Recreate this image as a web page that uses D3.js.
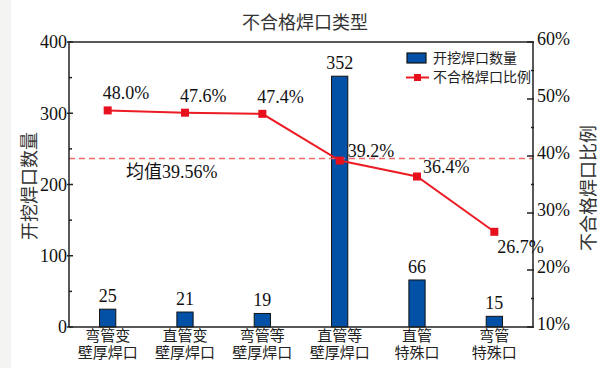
<!DOCTYPE html>
<html>
<head>
<meta charset="utf-8">
<script src="https://cdn.jsdelivr.net/npm/d3@7"></script>
<style>
  body { margin: 0; background: #fff; }
  svg text { fill: #111; }
</style>
</head>
<body>
<script>
// data
const categories = [["弯管变", "壁厚焊口"], ["直管变", "壁厚焊口"], ["弯管等", "壁厚焊口"], ["直管等", "壁厚焊口"], ["直管", "特殊口"], ["弯管", "特殊口"]];
const counts = [25, 21, 19, 352, 66, 15];
const ratios = [48.0, 47.6, 47.4, 39.2, 36.4, 26.7];
const ratioLabels = ["48.0%", "47.6%", "47.4%", "39.2%", "36.4%", "26.7%"];
const meanRatio = 39.56;
const leftTicks = [0, 100, 200, 300, 400];
const rightTicks = [10, 20, 30, 40, 50, 60];

// label offsets around the line points
const labelOffset = [[-5, -11], [-5, -11], [-5, -11], [8, -4], [6, -4], [3, 21]];

const width = 613, height = 368,
      pLeft = 69, pRight = 533, pTop = 42, pBottom = 327,
      serif = "'Liberation Serif', 'Times New Roman', serif",
      cjk = "'Noto Sans CJK SC', sans-serif",
      svg = d3.select("body")
              .append("svg")
              .attr("width", width)
              .attr("height", height),
      xScale = d3.scaleBand()
                 .domain(d3.range(categories.length))
                 .range([pLeft, pRight])
                 .paddingInner(0.79)
                 .paddingOuter(0.395),
      yLeft = d3.scaleLinear()
                .domain([0, 400])
                .range([pBottom, pTop]),
      yRight = d3.scaleLinear()
                 .domain([10, 60])
                 .range([pBottom, pTop]);

svg.append("rect").attr("x", 0).attr("y", 0).attr("width", width).attr("height", height).attr("fill", "#fff");
svg.append("rect").attr("x", 0).attr("y", 0).attr("width", 11).attr("height", height).attr("fill", "#f4f4f2");

// title
svg.append("text")
   .attr("x", 305).attr("y", 29)
   .attr("text-anchor", "middle")
   .style("font-family", cjk).style("font-size", "18px").style("fill", "#333")
   .text("不合格焊口类型");

// bars
const cx = i => xScale(i) + xScale.bandwidth() / 2;
svg.selectAll("rect.bar")
   .data(counts)
   .enter()
   .append("rect")
   .attr("class", "bar")
   .attr("x", (d, i) => xScale(i))
   .attr("y", d => yLeft(d))
   .attr("width", xScale.bandwidth())
   .attr("height", d => yLeft(0) - yLeft(d))
   .attr("fill", "#0351a6")
   .attr("stroke", "#111")
   .attr("stroke-width", 1);

svg.selectAll("text.count")
   .data(counts)
   .enter()
   .append("text")
   .attr("class", "count")
   .attr("x", (d, i) => cx(i))
   .attr("y", d => yLeft(d) - 7)
   .attr("text-anchor", "middle")
   .style("font-family", serif).style("font-size", "18px")
   .text(d => d);

// mean line
svg.append("line")
   .attr("x1", pLeft).attr("x2", pRight)
   .attr("y1", yRight(meanRatio)).attr("y2", yRight(meanRatio))
   .attr("stroke", "#f26a6a").attr("stroke-width", 1.5)
   .attr("stroke-dasharray", "6,4");
const meanText = svg.append("text")
   .attr("x", 126).attr("y", 178)
   .style("font-size", "18px");
meanText.append("tspan").style("font-family", cjk).text("均值");
meanText.append("tspan").style("font-family", serif).text(meanRatio + "%");

// ratio line
svg.append("path")
   .datum(ratios)
   .attr("d", d3.line().x((d, i) => cx(i)).y(d => yRight(d)))
   .attr("fill", "none")
   .attr("stroke", "#ec1c24")
   .attr("stroke-width", 2);

svg.selectAll("rect.pt")
   .data(ratios)
   .enter()
   .append("rect")
   .attr("class", "pt")
   .attr("x", (d, i) => cx(i) - 4)
   .attr("y", d => yRight(d) - 4)
   .attr("width", 8).attr("height", 8)
   .attr("fill", "#e8101c");

svg.selectAll("text.ratio")
   .data(ratios)
   .enter()
   .append("text")
   .attr("class", "ratio")
   .attr("x", (d, i) => cx(i) + labelOffset[i][0])
   .attr("y", (d, i) => yRight(d) + labelOffset[i][1])
   .style("font-family", serif).style("font-size", "18px")
   .text((d, i) => ratioLabels[i]);

// frame
const frame = svg.append("g").attr("stroke", "#222").attr("stroke-width", 1.5).attr("fill", "none");
frame.append("path").attr("d", `M${pLeft},${pBottom}V${pTop}H${pRight}V${pBottom}H${pLeft}`);

// left axis ticks
d3.range(0, 401, 50).forEach(v => {
  const major = v % 100 === 0;
  frame.append("line")
       .attr("x1", major ? pLeft - 2 : pLeft).attr("x2", pLeft + (major ? 4 : 3))
       .attr("y1", yLeft(v)).attr("y2", yLeft(v));
});
svg.selectAll("text.lt")
   .data(leftTicks)
   .enter()
   .append("text")
   .attr("class", "lt")
   .attr("x", pLeft - 2)
   .attr("y", d => yLeft(d))
   .attr("dy", "0.35em")
   .attr("text-anchor", "end")
   .style("font-family", serif).style("font-size", "18px")
   .text(d => d);

// right axis ticks
d3.range(10, 61, 5).forEach(v => {
  const major = v % 10 === 0;
  frame.append("line")
       .attr("x1", pRight - (major ? 6 : 2)).attr("x2", pRight + 1)
       .attr("y1", yRight(v)).attr("y2", yRight(v));
});
svg.selectAll("text.rt")
   .data(rightTicks)
   .enter()
   .append("text")
   .attr("class", "rt")
   .attr("x", pRight + 4)
   .attr("y", d => yRight(d) - 3)
   .attr("dy", "0.35em")
   .style("font-family", serif).style("font-size", "18px")
   .text(d => d + "%");

// category labels
const cat = svg.selectAll("text.cat")
   .data(categories)
   .enter()
   .append("text")
   .attr("class", "cat")
   .attr("text-anchor", "middle")
   .style("font-family", cjk).style("font-size", "15px")
   .style("fill", "#222");
cat.append("tspan").attr("x", (d, i) => cx(i)).attr("y", 341).text(d => d[0]);
cat.append("tspan").attr("x", (d, i) => cx(i)).attr("y", 358).text(d => d[1]);

// axis titles
svg.append("text")
   .attr("transform", "translate(36,186) rotate(-90)")
   .attr("text-anchor", "middle")
   .style("font-family", cjk).style("font-size", "18px").style("fill", "#333")
   .text("开挖焊口数量");
svg.append("text")
   .attr("transform", "translate(595,188) rotate(-90)")
   .attr("text-anchor", "middle")
   .style("font-family", cjk).style("font-size", "18px").style("fill", "#333")
   .text("不合格焊口比例");

// legend
const legend = svg.append("g");
legend.append("rect")
      .attr("x", 407).attr("y", 53).attr("width", 19).attr("height", 10)
      .attr("fill", "#0351a6").attr("stroke", "#111").attr("stroke-width", 1.2);
legend.append("line")
      .attr("x1", 406).attr("x2", 429).attr("y1", 77.5).attr("y2", 77.5)
      .attr("stroke", "#ec1c24").attr("stroke-width", 2);
legend.append("rect")
      .attr("x", 414).attr("y", 74).attr("width", 7).attr("height", 7)
      .attr("fill", "#e8101c");
legend.append("text").attr("x", 433).attr("y", 58).attr("dy", "0.35em")
      .style("font-family", cjk).style("font-size", "14px").style("fill", "#222")
      .text("开挖焊口数量");
legend.append("text").attr("x", 433).attr("y", 77.5).attr("dy", "0.35em")
      .style("font-family", cjk).style("font-size", "14px").style("fill", "#222")
      .text("不合格焊口比例");
</script>
</body>
</html>
